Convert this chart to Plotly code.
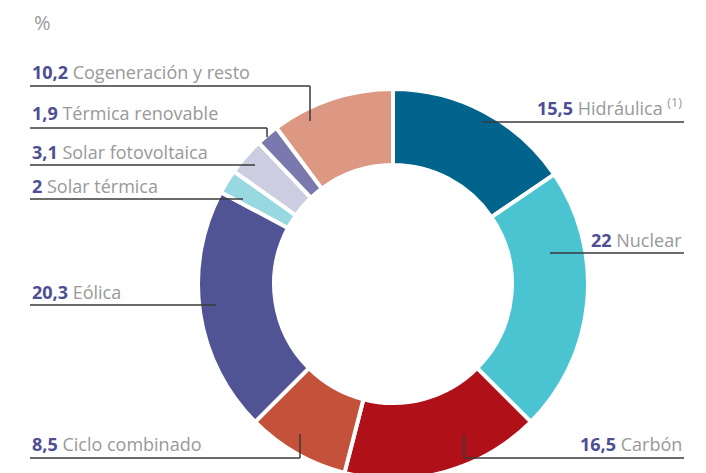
import plotly.graph_objects as go

# ---- data ----
categories = ["Hidráulica", "Nuclear", "Carbón", "Ciclo combinado", "Eólica",
              "Solar térmica", "Solar fotovoltaica", "Térmica renovable",
              "Cogeneración y resto"]
values = [15.5, 22, 16.5, 8.5, 20.3, 2, 3.1, 1.9, 10.2]
value_labels = ["15,5", "22", "16,5", "8,5", "20,3", "2", "3,1", "1,9", "10,2"]
colors = ["#00648C", "#4AC4D1", "#B01119", "#C4523B", "#515494",
          "#98D8E0", "#CDCDE2", "#7A79AE", "#DC9882"]

W, H = 706, 473
OFF = 8  # page body margin offset

# ---- label layout (screen pixel positions) ----
# side, text y, underline y, underline x-start, x-end, vertical end y (or None), vertical x
label_layout = {
    "Hidráulica":           ("right", 107, 122, 482, 684, None, None),
    "Nuclear":              ("right", 240, 253, 550, 684, None, None),
    "Carbón":               ("right", 444, 458, 464, 684, 434, 464),
    "Ciclo combinado":      ("left", 444, 458, 30, 300, 434, 300),
    "Eólica":               ("left", 292, 305, 30, 216, None, None),
    "Solar térmica":        ("left", 186, 199, 30, 243, None, None),
    "Solar fotovoltaica":   ("left", 152, 165, 30, 255, None, None),
    "Térmica renovable":    ("left", 113, 128, 30, 267, 137, 267),
    "Cogeneración y resto": ("left", 72, 86, 30, 310, 121, 310),
}

def px(x):
    return (x - OFF) / W

def py(y):
    return 1 - (y - OFF) / H

R = 195
cx, cy = 393, 284
fig = go.Figure(go.Pie(
    labels=categories,
    values=values,
    sort=False,
    direction="clockwise",
    rotation=0,
    hole=0.61,
    marker=dict(colors=colors, line=dict(color="white", width=4)),
    textinfo="none",
    hoverinfo="skip",
    showlegend=False,
    domain=dict(x=[px(cx - R), px(cx + R)], y=[py(cy + R), py(cy - R)]),
))

annotations = []
shapes = []
num_color = "#4E4E94"
name_color = "#999999"
line_color = "#3A3A3A"
FONT = "Open Sans"
for cat, vl in zip(categories, value_labels):
    side, ty, uy, x0, x1, vy, vx = label_layout[cat]
    sup = " <sup>(1)</sup>" if cat == "Hidráulica" else ""
    text = f"<b><span style='color:{num_color}'>{vl}</span></b> {cat}{sup}"
    annotations.append(dict(
        x=px(x0 if side == "left" else x1), y=py(ty),
        xref="paper", yref="paper",
        xanchor="left" if side == "left" else "right", yanchor="middle",
        text=text, showarrow=False,
        font=dict(family=FONT, size=18, color=name_color),
    ))
    shapes.append(dict(type="line", xref="paper", yref="paper",
                       x0=px(x0), x1=px(x1), y0=py(uy), y1=py(uy),
                       line=dict(color=line_color, width=1.5)))
    if vy is not None:
        shapes.append(dict(type="line", xref="paper", yref="paper",
                           x0=px(vx), x1=px(vx), y0=py(uy), y1=py(vy),
                           line=dict(color=line_color, width=1.5)))

annotations.append(dict(x=px(32), y=py(22), xref="paper", yref="paper",
                        xanchor="left", yanchor="middle", text="%",
                        showarrow=False,
                        font=dict(family=FONT, size=20, color="#9A9A9A")))

fig.update_layout(
    width=W, height=H,
    margin=dict(l=0, r=0, t=0, b=0),
    paper_bgcolor="white", plot_bgcolor="white",
    annotations=annotations, shapes=shapes,
)

fig.write_html("out.html")
